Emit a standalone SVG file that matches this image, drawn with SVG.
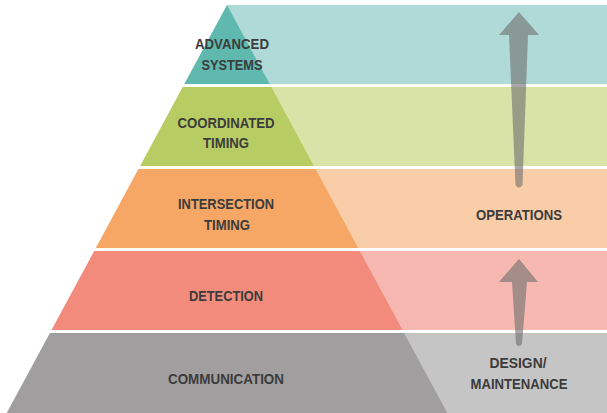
<svg xmlns="http://www.w3.org/2000/svg" width="607" height="413" viewBox="0 0 607 413">
<style>
.lbl{font-family:"Liberation Sans",Arial,sans-serif;font-size:15px;font-weight:bold;fill:#3c3c3c;text-anchor:middle}
.arr{fill:#6e6e6e;opacity:0.6}
</style>
<rect width="607" height="413" fill="#ffffff"/>
<g id="advanced-systems">
<rect x="227" y="5" width="380" height="79" fill="#b0dad8"/>
<polygon points="227,5 184.3,84 269.7,84" fill="#5fb9ae"/>
<text class="lbl" x="232" y="49" textLength="74" lengthAdjust="spacingAndGlyphs">ADVANCED</text>
<text class="lbl" x="232" y="70" textLength="61" lengthAdjust="spacingAndGlyphs">SYSTEMS</text>
</g>
<g id="coordinated-timing">
<rect x="227" y="87" width="380" height="79" fill="#d9e3a8"/>
<polygon points="182.7,87 271.3,87 313.9,166 140.1,166" fill="#b8cc64"/>
<text class="lbl" x="226" y="128" textLength="97" lengthAdjust="spacingAndGlyphs">COORDINATED</text>
<text class="lbl" x="226" y="148" textLength="46" lengthAdjust="spacingAndGlyphs">TIMING</text>
</g>
<g id="intersection-timing">
<rect x="227" y="169" width="380" height="79" fill="#f9cda8"/>
<polygon points="138.4,169 315.6,169 358.2,248 95.8,248" fill="#f6a766"/>
<text class="lbl" x="226" y="209" textLength="96" lengthAdjust="spacingAndGlyphs">INTERSECTION</text>
<text class="lbl" x="227" y="230" textLength="46" lengthAdjust="spacingAndGlyphs">TIMING</text>
<text class="lbl" x="519" y="220" textLength="86" lengthAdjust="spacingAndGlyphs">OPERATIONS</text>
</g>
<g id="detection">
<rect x="227" y="251" width="380" height="79" fill="#f6b8b0"/>
<polygon points="94.2,251 359.8,251 402.5,330 51.5,330" fill="#f38b7c"/>
<text class="lbl" x="226" y="301" textLength="74" lengthAdjust="spacingAndGlyphs">DETECTION</text>
</g>
<g id="communication">
<rect x="227" y="333" width="380" height="80" fill="#c6c5c5"/>
<polygon points="49.9,333 404.1,333 447.3,413 6.7,413" fill="#a09e9f"/>
<text class="lbl" x="226" y="384" textLength="116" lengthAdjust="spacingAndGlyphs">COMMUNICATION</text>
<text class="lbl" x="518" y="368" textLength="57" lengthAdjust="spacingAndGlyphs">DESIGN/</text>
<text class="lbl" x="519" y="389" textLength="97" lengthAdjust="spacingAndGlyphs">MAINTENANCE</text>
</g>
<g id="connectors">
<path class="arr" d="M519,12 L539,35 L528,35 L522.5,185 Q519,190 515.5,185 L509,35 L499,35 Z"/>
<path class="arr" d="M519,259 L538,282 L527,282 L522,344 Q519,348 516,344 L512,282 L499,282 Z"/>
</g>
</svg>
